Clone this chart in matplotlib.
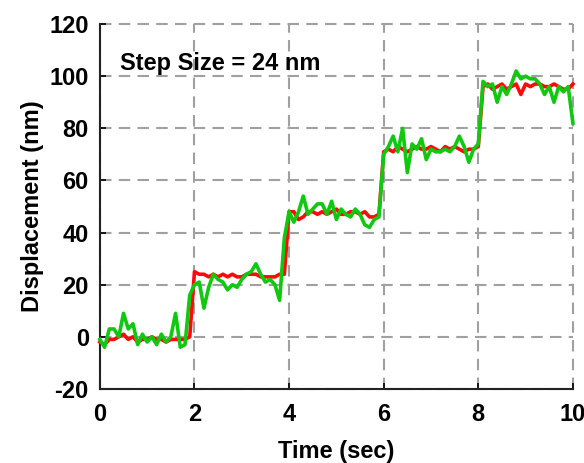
import numpy as np
import matplotlib
matplotlib.use("Agg")
import matplotlib.pyplot as plt

plt.rcParams['font.family'] = ['Liberation Sans', 'DejaVu Sans']
plt.rcParams['axes.unicode_minus'] = False

time_s = np.round(np.linspace(0, 10, 101), 1)

green_nm = [
    -1, -4, 3, 3, 0, 9, 3, 5, -3, 1,
    -2, 0, -3, 1, -2, 0, 9, -4, -3, 16,
    20, 21, 11, 19, 24, 22, 21, 18, 20, 19,
    22, 24, 25, 28, 24, 21, 22, 20, 14, 38,
    48, 44, 48, 54, 47, 49, 51, 51, 47, 52,
    45, 49, 47, 46, 49, 47, 43, 42, 45, 46,
    70, 73, 77, 71, 80, 63, 74, 72, 76, 68,
    72, 71, 71, 72, 71, 73, 77, 73, 67, 72,
    74, 98, 96, 97, 90, 96, 93, 97, 102, 99,
    100, 99, 99, 97, 93, 96, 90, 96, 94, 96,
    82,
]

red_nm = [
    -2, -3, -1, -1, 0, 1, -1, 0, -2, -1,
    -1, 0, -1, -1, -2, -1, -1, -1, -1, 0,
    25, 24, 24, 23, 24, 23, 24, 23, 24, 23,
    23, 24, 24, 24, 23, 23, 23, 23, 24, 24,
    48, 48, 45, 46, 48, 48, 47, 48, 47, 48,
    49, 47, 47, 48, 48, 47, 48, 46, 46, 47,
    71, 72, 71, 73, 72, 71, 72, 73, 72, 72,
    73, 72, 71, 73, 72, 73, 72, 71, 72, 72,
    73, 96, 97, 95, 96, 97, 95, 96, 97, 93,
    97, 96, 97, 97, 96, 96, 97, 96, 95, 95,
    97,
]

x_ticks = [0, 2, 4, 6, 8, 10]
y_ticks = [-20, 0, 20, 40, 60, 80, 100, 120]

fig = plt.figure(figsize=(5.84, 4.63), dpi=100)
ax = fig.add_axes([0.171, 0.16, 0.81, 0.788])

ax.plot(time_s, red_nm, color='#ff0a0a', lw=2.6, zorder=3, clip_on=False)
ax.plot(time_s, green_nm, color='#10c810', lw=2.6, zorder=4, clip_on=False)

ax.set_xlim(0, 10)
ax.set_ylim(-20, 120)
ax.set_xticks(x_ticks)
ax.set_yticks(y_ticks)
ax.tick_params(direction='in', length=4, width=1.2, labelsize=17, pad=8)
ax.tick_params(axis='x', pad=10)
for lab in ax.get_xticklabels() + ax.get_yticklabels():
    lab.set_fontweight('bold')

ax.grid(True, color='#a0a0a0', lw=1.5, linestyle=(0, (5.5, 3.5)))
for gl in ax.get_xgridlines() + ax.get_ygridlines():
    gl.set_clip_on(False)
ax.set_axisbelow(True)

for s in ['top', 'right']:
    ax.spines[s].set_visible(False)
for s in ['left', 'bottom']:
    ax.spines[s].set_linewidth(1.5)
    ax.spines[s].set_color('#222222')

ax.set_xlabel('Time (sec)', fontsize=17, fontweight='bold', labelpad=10)
ax.set_ylabel('Displacement (nm)', fontsize=17, fontweight='bold', labelpad=4)

ax.text(0.42, 105, 'Step Size = 24 nm', fontsize=17, fontweight='bold',
        va='center', ha='left', zorder=5)

fig.savefig('out.png', dpi=100)
